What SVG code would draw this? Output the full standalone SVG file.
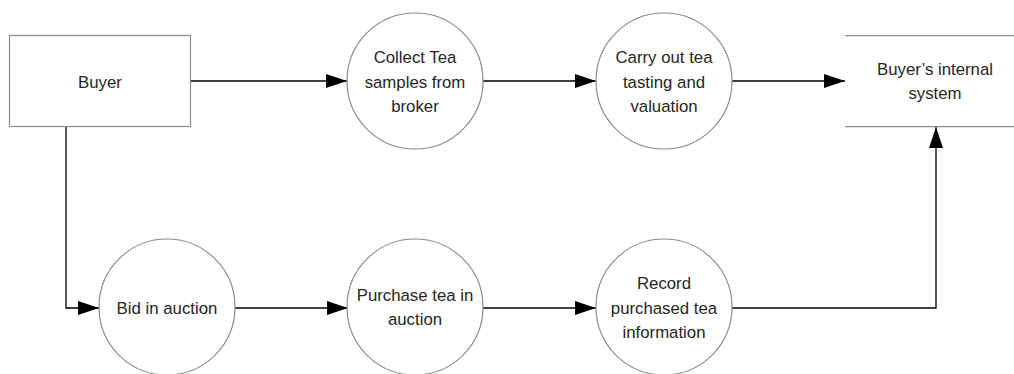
<svg xmlns="http://www.w3.org/2000/svg" width="1014" height="374" viewBox="0 0 1014 374">
<style>
.n{fill:#fff;stroke:#8c8c8c;stroke-width:1.2}
.t{font-family:"Liberation Sans",Arial,sans-serif;font-size:16.8px;fill:#262626;text-anchor:middle}
.c{fill:none;stroke:#000;stroke-width:1.3}
</style>
<defs>
<marker id="ah" markerUnits="userSpaceOnUse" markerWidth="21" markerHeight="14" refX="21" refY="7" orient="auto">
<path d="M0,0 L21,7 L0,14 Z" fill="#000"/>
</marker>
</defs>
<rect width="1014" height="374" fill="#fff"/>
<g id="connectors">
<path class="c" d="M190,81 H347" marker-end="url(#ah)"/>
<path class="c" d="M483,81 H596" marker-end="url(#ah)"/>
<path class="c" d="M732,81 H845" marker-end="url(#ah)"/>
<path class="c" d="M66,126 V308 H99" marker-end="url(#ah)"/>
<path class="c" d="M235,308 H348" marker-end="url(#ah)"/>
<path class="c" d="M483,308 H596" marker-end="url(#ah)"/>
<path class="c" d="M732,308 H936 V127" marker-end="url(#ah)"/>
</g>
<g id="buyer">
<rect class="n" x="9.5" y="35.5" width="181" height="91"/>
<text class="t" x="100" y="87.5">Buyer</text>
</g>
<g id="collect">
<circle class="n" cx="415" cy="81" r="68"/>
<text class="t" x="415" y="63">Collect Tea</text>
<text class="t" x="415" y="87.5">samples from</text>
<text class="t" x="415" y="111.5">broker</text>
</g>
<g id="carry">
<circle class="n" cx="664" cy="81" r="68"/>
<text class="t" x="664" y="63">Carry out tea</text>
<text class="t" x="664" y="87.5">tasting and</text>
<text class="t" x="664" y="111.5">valuation</text>
</g>
<g id="system">
<path d="M845,35.7 H1014 M845,126.7 H1014" stroke="#8c8c8c" stroke-width="1.2" fill="none"/>
<text class="t" x="935" y="75">Buyer’s internal</text>
<text class="t" x="935" y="99">system</text>
</g>
<g id="bid">
<circle class="n" cx="167" cy="307" r="68"/>
<text class="t" x="167" y="314">Bid in auction</text>
</g>
<g id="purchase">
<circle class="n" cx="415" cy="307" r="68"/>
<text class="t" x="415" y="301">Purchase tea in</text>
<text class="t" x="415" y="325">auction</text>
</g>
<g id="record">
<circle class="n" cx="664" cy="307" r="68"/>
<text class="t" x="664" y="289">Record</text>
<text class="t" x="664" y="314">purchased tea</text>
<text class="t" x="664" y="338">information</text>
</g>
</svg>
